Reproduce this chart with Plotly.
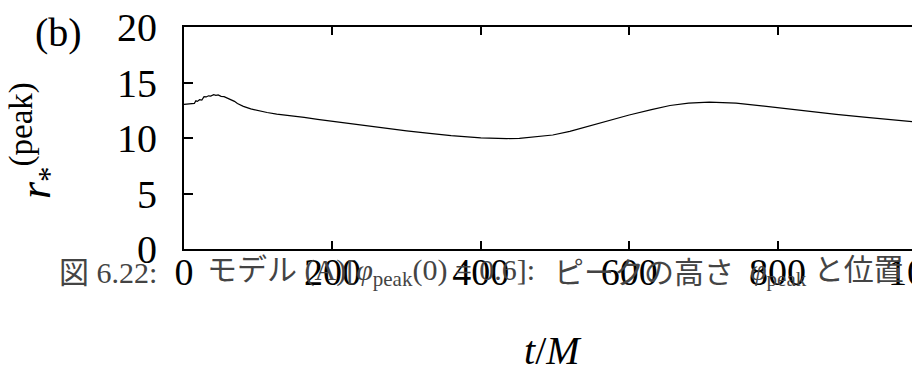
import plotly.graph_objects as go

# ---- data ----
t_vals = [0, 5, 10, 14, 16, 18, 21, 24, 27, 30, 33, 36, 40, 43, 46, 50, 54, 58, 63, 68, 72,
          80, 90, 100, 112, 125, 135, 150, 162, 180, 200, 230, 264, 300, 331, 360, 400,
          420, 435, 452, 479, 497, 520, 542, 570, 600, 630, 655, 680, 708, 744, 770,
          799, 840, 879, 920, 946, 991, 1000]
r_vals = [13.03, 13.05, 13.10, 13.12, 13.35, 13.30, 13.45, 13.42, 13.72, 13.70, 13.80, 13.78,
          13.90, 13.85, 13.88, 13.75, 13.72, 13.60, 13.45, 13.30, 13.10,
          12.85, 12.62, 12.45, 12.30, 12.15, 12.08, 11.95, 11.85, 11.68, 11.50, 11.22,
          10.93, 10.65, 10.42, 10.22, 10.02, 9.97, 9.95, 9.97, 10.12, 10.27, 10.60,
          11.02, 11.55, 12.07, 12.55, 12.93, 13.15, 13.24, 13.15, 12.95, 12.70, 12.40,
          12.13, 11.85, 11.68, 11.40, 11.35]

x_ticks = [0, 200, 400, 600, 800, 1000]
y_ticks = [0, 5, 10, 15, 20]
x_range = [0, 1000]
y_range = [0, 20]

panel_label = "(b)"
x_title = "<i>t</i>/<i>M</i>"
y_title = ("<i>r</i><sub>*</sub>"
           "<sup><span style='font-size:33px'>(peak)</span></sup>")
caption_parts = [
    ("図 6.22:", 57),
    ("モデル (A)[<i>φ</i><sub>peak</sub>(0) = 0.6]:", 205),
    ("ピークの高さ", 552),
    ("<i>φ</i><sub>peak</sub> と位置", 748),
]

SERIF = "Liberation Serif, Times New Roman, serif"
CAPFONT = "Liberation Serif, Noto Sans CJK JP, serif"

OFF = 8  # page offset of the figure (body margin)
W, H = 920, 374
L, R, T, B = 176, 2, 19, 133
pw, ph = W - L - R, H - T - B


def px(page_x):
    return (page_x - OFF - L) / pw


def py(page_y):
    return (H - B - (page_y - OFF)) / ph


fig = go.Figure()
fig.add_trace(go.Scatter(x=t_vals, y=r_vals, mode="lines",
                         line=dict(color="black", width=1.2), showlegend=False,
                         hoverinfo="skip"))

fig.update_xaxes(range=x_range, tickvals=x_ticks, ticktext=[str(v) for v in x_ticks],
                 ticks="inside", ticklen=8, tickwidth=1.5, tickcolor="black",
                 showline=True, linecolor="black", linewidth=2, mirror="ticks",
                 showgrid=False, zeroline=False, automargin=False,
                 ticklabelstandoff=-12, ticklabeloverflow="allow",
                 tickfont=dict(family=SERIF, size=38, color="black"))
fig.update_yaxes(range=y_range, tickvals=y_ticks, ticktext=[str(v) for v in y_ticks],
                 ticks="inside", ticklen=9, tickwidth=1.5, tickcolor="black",
                 showline=True, linecolor="black", linewidth=2, mirror="ticks",
                 showgrid=False, zeroline=False, automargin=False,
                 ticklabelstandoff=17, ticklabeloverflow="allow",
                 tickfont=dict(family=SERIF, size=40, color="black"))

annotations = [
    dict(x=px(58), y=py(33), xref="paper", yref="paper", text=panel_label,
         showarrow=False, xanchor="center", yanchor="middle",
         font=dict(family=SERIF, size=40, color="black")),
    dict(x=px(553), y=py(350), xref="paper", yref="paper", text=x_title,
         showarrow=False, xanchor="center", yanchor="middle",
         font=dict(family=SERIF, size=40, color="black")),
    dict(x=px(35), y=py(141), xref="paper", yref="paper", text=y_title,
         showarrow=False, xanchor="center", yanchor="middle", textangle=-90,
         font=dict(family=SERIF, size=44, color="black")),
]
for txt, xl in caption_parts:
    annotations.append(dict(x=px(xl), y=py(272), xref="paper", yref="paper", text=txt,
                            showarrow=False, xanchor="left", yanchor="middle",
                            font=dict(family=CAPFONT, size=30, color="#444444")))

fig.update_layout(template="none", width=W, height=H,
                  margin=dict(l=L, r=R, t=T, b=B, pad=0),
                  paper_bgcolor="white", plot_bgcolor="white",
                  annotations=annotations, showlegend=False)

fig.write_html("out.html")
